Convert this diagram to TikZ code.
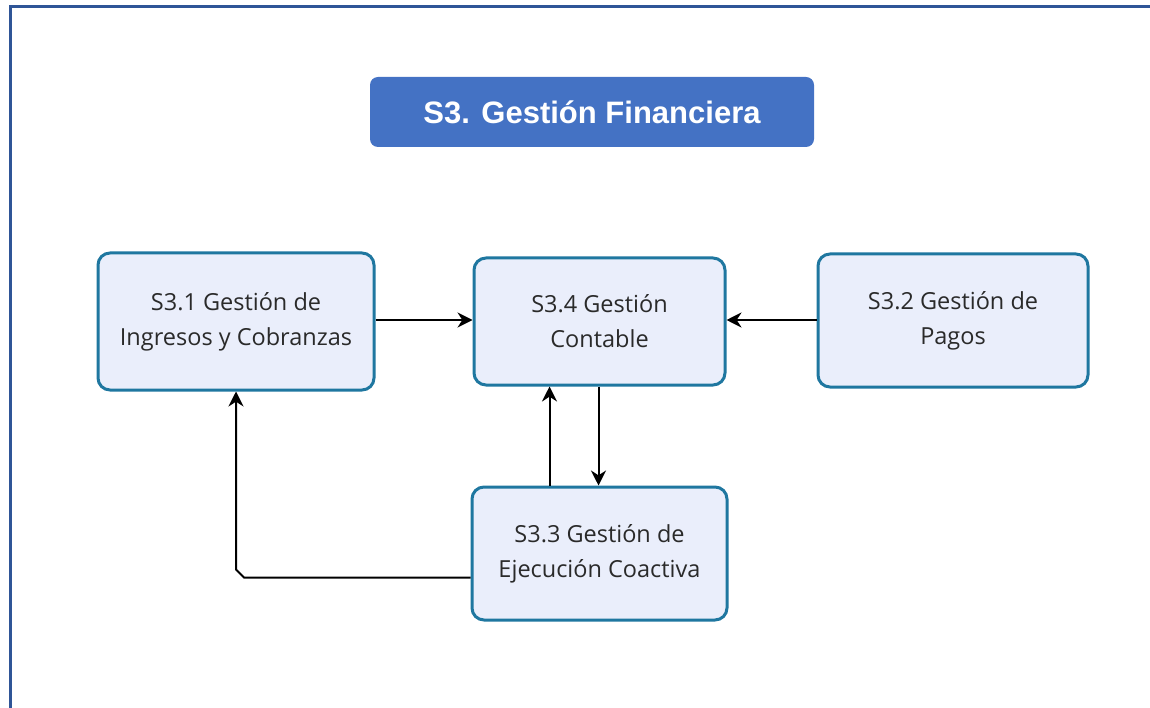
\documentclass[tikz,border=0pt]{standalone}
\usepackage{fontspec}
\setmainfont{Open Sans}
\newfontfamily\titlefont{Liberation Sans}
\usepackage{tikz}
\usetikzlibrary{arrows.meta}

\definecolor{titlebg}{HTML}{4472C4}
\definecolor{framec}{HTML}{2F5597}
\definecolor{boxbg}{HTML}{EAEEFB}
\definecolor{boxline}{HTML}{1F77A0}
\definecolor{boxtext}{HTML}{2A2A2A}

\begin{document}
\begin{tikzpicture}[
			x=1pt, y=-1pt,
			subsys/.style={draw=boxline, line width=3pt, fill=boxbg, rounded corners=12pt,
				align=center, text=boxtext, font=\fontsize{23.5}{35}\selectfont},
			titlebox/.style={fill=titlebg, rounded corners=8pt, text=white,
				font=\titlefont\bfseries\fontsize{31}{34}\selectfont},
			flow/.style={draw, line width=2pt, -{Stealth[length=15pt,width=15pt]}},
			]
			\useasboundingbox (0,0) rectangle (1150,708);
			
			% frame of the page
			\draw[framec, line width=3pt] (10,708) -- (10,7) -- (1150,7);
			
			\node[titlebox, minimum width=444pt, minimum height=70pt] (title) at (592,112) {S3. Gestión Financiera};
			
			\node[subsys, minimum width=276pt, minimum height=137pt] (S31) at (236,321.5) {S3.1 Gestión de\\Ingresos y Cobranzas};
			\node[subsys, minimum width=251pt, minimum height=127pt] (S34) at (599.5,321.5) {S3.4 Gestión\\Contable};
			\node[subsys, minimum width=270pt, minimum height=133pt] (S32) at (953,320.5) {S3.2 Gestión de\\Pagos};
			\node[subsys, minimum width=255pt, minimum height=133pt] (S33) at (599.5,553.5) {S3.3 Gestión de\\Ejecución Coactiva};
			
			% connectors
			\draw[flow] (S31.east |- 0,320) -- (S34.west |- 0,320);
			\draw[flow] (S32.west |- 0,320) -- (S34.east |- 0,320);
			\draw[flow] ([xshift=-50pt]S33.north) -- ([xshift=-50pt]S34.south);
			\draw[flow] ([xshift=-1pt]S34.south) -- ([xshift=-1pt]S33.north);
			\coordinate (bend) at (S31.south |- S33.west);
			\draw[flow] ([yshift=-24pt]S33.west) -- ([xshift=8pt,yshift=-24pt]bend) -- ([yshift=-16pt]bend) -- (S31.south);
		\end{tikzpicture}
\end{document}
